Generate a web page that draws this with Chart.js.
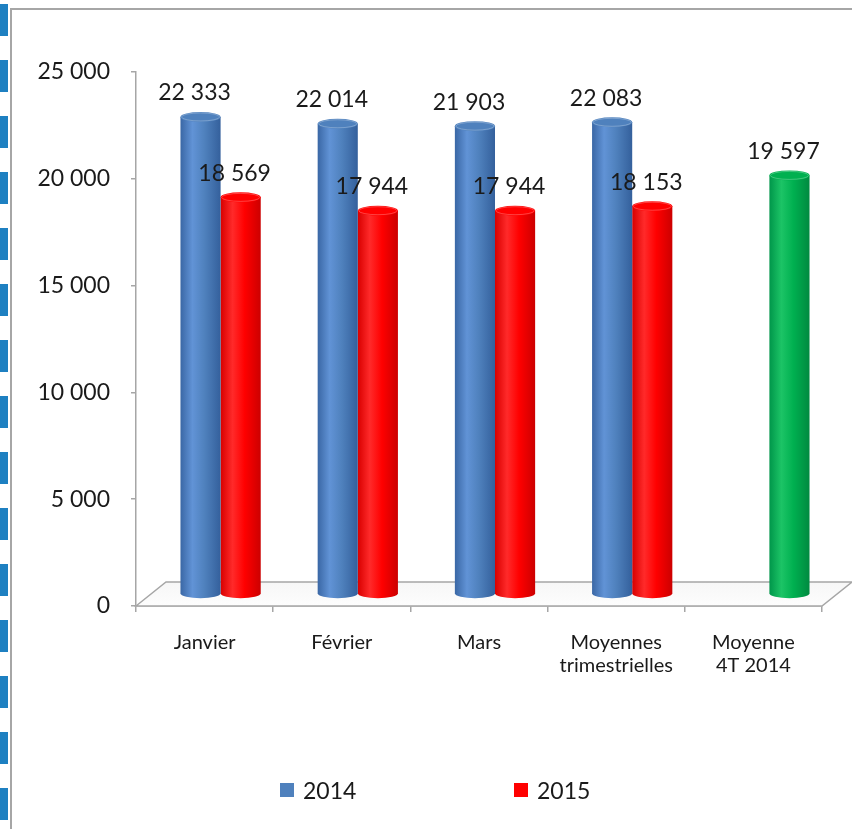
<!DOCTYPE html>
<html lang="fr">
<head>
<meta charset="utf-8">
<script src="https://cdn.jsdelivr.net/npm/chart.js@4.4.1/dist/chart.umd.min.js"></script>
<style>
  html, body { margin: 0; padding: 0; background: #fff; }
  #wrap { position: relative; width: 852px; height: 829px; }
</style>
</head>
<body>
<div id="wrap"><canvas id="chart" width="852" height="829"></canvas></div>
<script>
// ── Data ──────────────────────────────────────────────────────────────────────
const categories = ['Janvier', 'Février', 'Mars', ['Moyennes', 'trimestrielles'], ['Moyenne', '4T 2014']];
const seriesNames = ['2014', '2015'];
const values2014 = [22333, 22014, 21903, 22083, null];
const values2015 = [18569, 17944, 17944, 18153, 19597];
const yTicks = [0, 5000, 10000, 15000, 20000, 25000];

// ── Style ─────────────────────────────────────────────────────────────────────
const FONT = 'Lato, "Open Sans", sans-serif';
const TEXT = '#1a1a1a';
const AXIS = '#a6a6a6';
const SHADES = {
  blue:  { flat: '#4f81bd', edge: '#3a67a5', light: '#6193d6', dark: '#34609c' },
  red:   { flat: '#ff0000', edge: '#d80000', light: '#ff2a2a', dark: '#cc0000' },
  green: { flat: '#00b050', edge: '#00964a', light: '#1cc466', dark: '#008a40' }
};
const HIGHLIGHT_INDEX = 4;              // "Moyenne 4T 2014" is drawn green
const FLOOR_DX = 30, FLOOR_DY = 24;     // depth of the 3D floor
const BAR_DX = 16, BAR_DY = 12;         // bars stand half way into the floor
const CAP_RY = 5;

function fmt(v) { return String(v).replace(/\B(?=(\d{3})+(?!\d))/g, ' '); }

function shadeFor(datasetIndex, index) {
  if (datasetIndex === 0) return SHADES.blue;
  return index === HIGHLIGHT_INDEX ? SHADES.green : SHADES.red;
}

// ── Background: dashed strip + frame ─────────────────────────────────────────
const framePlugin = {
  id: 'frame',
  beforeDraw(chart) {
    const { ctx, width, height } = chart;
    ctx.save();
    ctx.fillStyle = '#fff';
    ctx.fillRect(0, 0, width, height);
    ctx.fillStyle = '#1e80c1';
    for (let y = 4; y < height; y += 56) ctx.fillRect(0, y, 8, 32);
    ctx.strokeStyle = AXIS;
    ctx.lineWidth = 2;
    ctx.beginPath();
    ctx.moveTo(11, height);
    ctx.lineTo(11, 9);
    ctx.lineTo(width, 9);
    ctx.stroke();
    ctx.restore();
  }
};

// ── 3D floor ──────────────────────────────────────────────────────────────────
const floorPlugin = {
  id: 'floor',
  beforeDatasetsDraw(chart) {
    const { ctx, chartArea: a } = chart;
    ctx.save();
    const g = ctx.createLinearGradient(0, a.bottom - FLOOR_DY, 0, a.bottom);
    g.addColorStop(0, '#f7f7f7');
    g.addColorStop(1, '#fdfdfd');
    ctx.fillStyle = g;
    ctx.strokeStyle = AXIS;
    ctx.lineWidth = 1.5;
    ctx.beginPath();
    ctx.moveTo(a.left, a.bottom);
    ctx.lineTo(a.left + FLOOR_DX, a.bottom - FLOOR_DY);
    ctx.lineTo(a.right + FLOOR_DX, a.bottom - FLOOR_DY);
    ctx.lineTo(a.right, a.bottom);
    ctx.closePath();
    ctx.fill();
    ctx.stroke();
    ctx.restore();
  }
};

// ── Cylinders drawn from the bar elements ─────────────────────────────────────
const cylinderPlugin = {
  id: 'cylinders',
  beforeDatasetDraw(chart, args) {
    const { ctx } = chart;
    const meta = args.meta;
    ctx.save();
    meta.data.forEach((bar, i) => {
      const v = chart.data.datasets[args.index].data[i];
      if (v === null || v === undefined) return;
      const p = bar.getProps(['x', 'y', 'base', 'width'], true);
      const s = shadeFor(args.index, i);
      const cx = p.x + BAR_DX;
      const top = p.y - BAR_DY;
      const bot = p.base - BAR_DY;
      const rx = p.width / 2;
      const g = ctx.createLinearGradient(cx - rx, 0, cx + rx, 0);
      g.addColorStop(0, s.edge);
      g.addColorStop(0.3, s.light);
      g.addColorStop(0.6, s.flat);
      g.addColorStop(1, s.dark);
      ctx.fillStyle = g;
      ctx.beginPath();
      ctx.moveTo(cx - rx, top);
      ctx.lineTo(cx - rx, bot);
      ctx.ellipse(cx, bot, rx, CAP_RY, 0, Math.PI, 0, true);
      ctx.lineTo(cx + rx, top);
      ctx.closePath();
      ctx.fill();
      // top cap
      ctx.beginPath();
      ctx.ellipse(cx, top, rx, CAP_RY, 0, 0, Math.PI * 2);
      ctx.fillStyle = s.flat;
      ctx.fill();
      ctx.beginPath();
      ctx.ellipse(cx, top, rx - 1, CAP_RY - 1, 0, 0, Math.PI * 2);
      ctx.strokeStyle = 'rgba(255,255,255,0.25)';
      ctx.lineWidth = 1;
      ctx.stroke();
    });
    ctx.restore();
    return false;
  }
};

// ── Value labels ──────────────────────────────────────────────────────────────
const labelPlugin = {
  id: 'valueLabels',
  afterDatasetsDraw(chart) {
    const { ctx } = chart;
    ctx.save();
    ctx.font = `23px ${FONT}`;
    ctx.fillStyle = TEXT;
    ctx.textAlign = 'center';
    ctx.textBaseline = 'middle';
    chart.data.datasets.forEach((ds, di) => {
      chart.getDatasetMeta(di).data.forEach((bar, i) => {
        const v = ds.data[i];
        if (v === null || v === undefined) return;
        ctx.fillText(fmt(v), bar.x + BAR_DX - 6, bar.y - BAR_DY - 24);
      });
    });
    ctx.restore();
  }
};

// ── Legend ────────────────────────────────────────────────────────────────────
const legendPlugin = {
  id: 'bottomLegend',
  afterDraw(chart) {
    const { ctx } = chart;
    const xs = [280, 514];
    const y = 783;
    ctx.save();
    ctx.font = `23px ${FONT}`;
    ctx.textBaseline = 'middle';
    ctx.textAlign = 'left';
    seriesNames.forEach((name, i) => {
      ctx.fillStyle = i === 0 ? SHADES.blue.flat : SHADES.red.flat;
      ctx.fillRect(xs[i], y, 14, 14);
      ctx.fillStyle = TEXT;
      ctx.fillText(name, xs[i] + 23, y + 9);
    });
    ctx.restore();
  }
};

new Chart(document.getElementById('chart'), {
  type: 'bar',
  data: {
    labels: categories,
    datasets: [
      { label: seriesNames[0], data: values2014, backgroundColor: SHADES.blue.flat },
      { label: seriesNames[1], data: values2015,
        backgroundColor: ctx => ctx.dataIndex === HIGHLIGHT_INDEX ? SHADES.green.flat : SHADES.red.flat }
    ]
  },
  options: {
    responsive: false,
    animation: false,
    layout: { padding: { top: 72, right: 30, left: 0, bottom: 0 } },
    datasets: { bar: { categoryPercentage: 0.585, barPercentage: 1 } },
    plugins: { legend: { display: false }, tooltip: { enabled: false } },
    scales: {
      x: {
        afterFit: s => { s.height = 223; },
        grid: { drawOnChartArea: false, drawTicks: true, tickLength: 6, color: AXIS, lineWidth: 1.5 },
        border: { color: AXIS, width: 1.5 },
        ticks: { color: TEXT, font: { family: FONT, size: 20, lineHeight: 1.15 }, padding: 19, maxRotation: 0 }
      },
      y: {
        min: yTicks[0],
        max: yTicks[yTicks.length - 1],
        afterFit: s => { s.width = 136; },
        afterBuildTicks: s => { s.ticks = yTicks.map(v => ({ value: v })); },
        grid: { drawOnChartArea: false, drawTicks: true, tickLength: 5, color: AXIS, lineWidth: 1.5 },
        border: { color: AXIS, width: 1.5 },
        ticks: { color: TEXT, font: { family: FONT, size: 23 }, padding: 21, callback: v => fmt(v) }
      }
    }
  },
  plugins: [framePlugin, floorPlugin, cylinderPlugin, labelPlugin, legendPlugin]
});
</script>
</body>
</html>
